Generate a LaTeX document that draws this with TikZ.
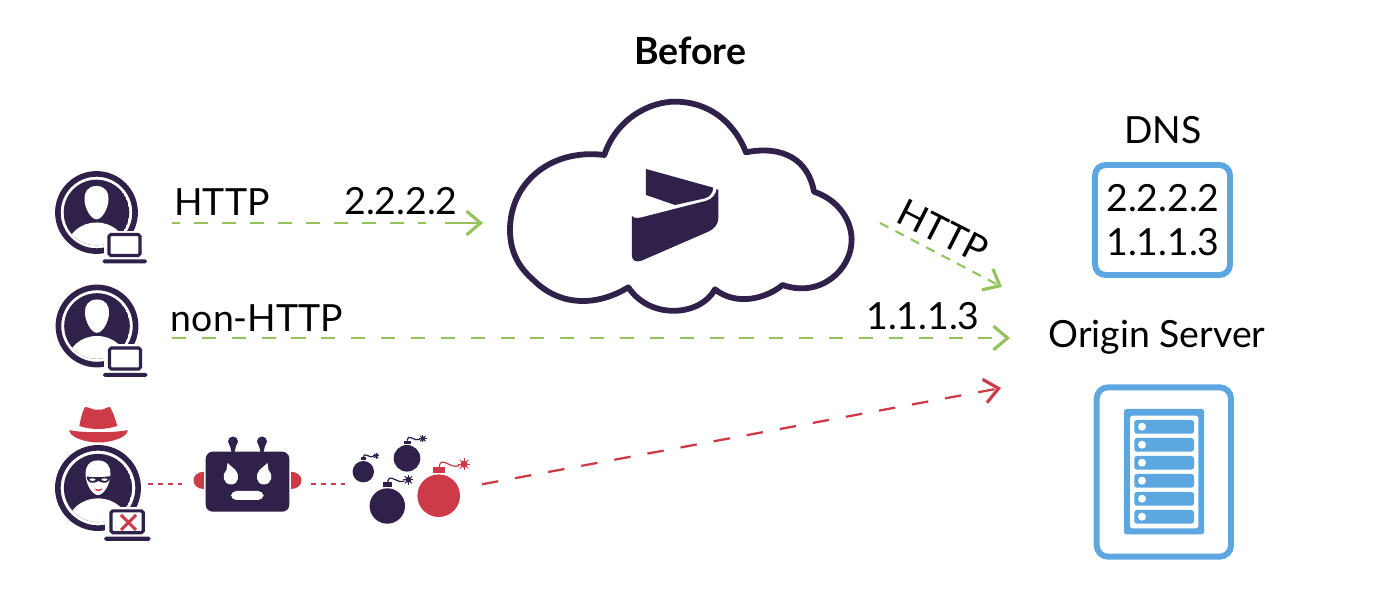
\documentclass[tikz,border=0pt]{standalone}
\usepackage{fontspec}
\setmainfont{Lato}
\usetikzlibrary{arrows.meta}
\definecolor{ink}{HTML}{2F2149}
\definecolor{leaf}{HTML}{95C25C}
\definecolor{alarm}{HTML}{CC3B47}
\definecolor{sky}{HTML}{5DA7E0}
\tikzset{
	label text/.style={font=\fontsize{21.3}{25}\selectfont,inner sep=0pt,text=black},
	iconbox/.style={inner sep=0pt,outer sep=0pt},
	barbtip/.style={-{Straight Barb[length=8pt,width=13.5pt,line width=1.8pt]}},
	firstline/.style={draw=leaf,line width=1.3pt,barbtip,dash pattern=on 4.7pt off 7.6pt on 8pt off 8pt on 8pt off 8pt on 8pt off 8pt on 8pt off 8pt on 8pt off 8pt on 8pt off 8pt on 8pt off 8pt on 8pt off 8pt on 4.3pt off 10.8pt on 30pt off 1pt},
	okline/.style={draw=leaf,line width=1.3pt,barbtip,dash pattern=on 8pt off 9pt},
	shortline/.style={draw=leaf,line width=1.2pt,barbtip,dash pattern=on 5.4pt off 4.5pt},
	badline/.style={draw=alarm,line width=1.3pt,barbtip,dash pattern=on 9.4pt off 9.75pt},
	botline/.style={draw=alarm,line width=1.2pt,dash pattern=on 3pt off 2.6pt},
}
% person in a ring with a laptop
\newcommand{\usericon}[3]{
	\begin{scope}[shift={(#1,#2)},scale=#3]
		\draw[ink,line width=3.2pt] (0,0) circle [radius=38.6];
		\begin{scope}
			\clip (0,0) circle [radius=32.8];
			\fill[ink] (0,0) circle [radius=32.8];
			\fill[white] (0,35) ellipse [x radius=29,y radius=25];
		\end{scope}
		\fill[white] (0,-26.5) .. controls (-9,-26.5) and (-12.5,-20) .. (-12,-13) .. controls (-12,-5) and (-6,6.8) .. (0,6.8) .. controls (6,6.8) and (12,-5) .. (12,-13) .. controls (12.5,-20) and (9,-26.5) .. (0,-26.5) -- cycle;
		\fill[white] (7,18.5) rectangle (52,52);
		\draw[ink,line width=1.8pt,rounded corners=1pt] (12.5,22) rectangle (43.5,43);
		\fill[ink,rounded corners=1pt] (6,46.8) rectangle (50.5,50.8);
	\end{scope}
}
% round bomb with cap, fuse and spark
\newcommand{\bombicon}[4]{
	\begin{scope}[shift={(#1,#2)},scale=#3]
		\fill[#4] (0,0) circle [radius=1];
		\fill[#4] (-0.25,-1.33) rectangle (0.28,-1.05);
		\draw[#4,line width=0.7pt] (0.02,-1.33) .. controls (0.1,-1.95) and (0.55,-1.2) .. (0.98,-1.42);
		\fill[#4] (1.19,-1.48) circle [radius=0.17];
		\foreach \ang in {0,45,...,315}
			\draw[#4,line width=0.5pt] (1.19,-1.48) -- ++(\ang:0.29);
	\end{scope}
}
\begin{document}
\begin{tikzpicture}[x=0.02cm,y=-0.02cm]
	\useasboundingbox (0,0) rectangle (1387,614);
	\node[font=\fontsize{21.3}{25}\selectfont\bfseries,iconbox] (title) at (690,51) {Before};

	% invisible boxes that the connectors run between
	\node[iconbox,minimum width=3.02cm] (webuser) at (96.5,223) {};
	\node[iconbox,minimum width=3.02cm] (appuser) at (96.5,338) {};
	\node[iconbox,minimum width=2cm] (hacker) at (98,484.3) {};
	\node[iconbox,minimum width=2.58cm] (robot) at (246.5,484.3) {};
	\node[iconbox,minimum width=2.74cm] (bombs) at (413.5,484.3) {};
	\node[iconbox,minimum width=7.94cm] (cloud) at (681.5,223) {};
	\coordinate (dnsin) at (1002,287);
	\coordinate (directin) at (1010,338);
	\coordinate (attackin) at (1001,388);

	% people
	\usericon{96.5}{212.5}{1}
	\usericon{97}{326}{1}
	\usericon{98}{488}{1.04}
	\fill[alarm] (79.3,426) .. controls (81,418) and (82,412) .. (85,407) .. controls (91,407) and (93,411) .. (98,409.5) .. controls (103,411) and (106,407) .. (110,407) .. controls (113,412) and (115,418) .. (117.3,426) .. controls (105,430) and (91,430) .. (79.3,426) -- cycle;
	\fill[alarm] (69.3,430) .. controls (80,433) and (116,433) .. (127.7,430) .. controls (128,437) and (112,442.5) .. (98.5,442.5) .. controls (85,442.5) and (69,437) .. (69.3,430) -- cycle;
	\fill[ink] (86.5,476.5) .. controls (94,477.5) and (103,477.5) .. (110.5,476) .. controls (110,483) and (105,484.5) .. (98.5,481) .. controls (92,484.5) and (87,483) .. (86.5,476.5) -- cycle;
	\fill[white] (92.5,479.6) ellipse [x radius=3,y radius=1.2];
	\fill[white] (104.5,479.6) ellipse [x radius=3,y radius=1.2];
	\fill[alarm] (94.5,488.5) .. controls (97,490) and (100,490) .. (102.5,488.5) .. controls (101,492) and (96,492) .. (94.5,488.5) -- cycle;
	\draw[alarm,line width=1.7pt] (121,515) -- (136,530) (136,515) -- (121,530);

	% robot
	\fill[ink,rounded corners=4pt] (205.7,451.7) rectangle (289.3,511.7);
	\foreach \side in {1,-1} {
		\begin{scope}[shift={(247.5,0)},xscale=\side]
			\fill[alarm] (-43.7,471.7) .. controls (-50,472) and (-54,476) .. (-54,480.3) .. controls (-54,485) and (-50,489) .. (-43.7,489) -- cycle;
			\fill[ink] (-14.5,441.5) circle [radius=5];
			\fill[ink] (-18,444) -- (-16,452) -- (-13,452) -- (-11,444) -- cycle;
			\fill[white] (-20,463) -- (-12,470) .. controls (-8,474) and (-8,484) .. (-16,484.5) .. controls (-25,484.5) and (-26,474) .. (-21,470) -- cycle;
		\end{scope}
	}
	\fill[white,rounded corners=3pt] (231,491) rectangle (263.5,500);

	% bombs
	\bombicon{363.3}{471.7}{10.7}{ink}
	\bombicon{407}{458.3}{13.3}{ink}
	\bombicon{387.3}{506}{17.7}{ink}
	\bombicon{438.7}{495.7}{21.3}{alarm}

	% cloud with logo
	\begin{scope}[shift={(500,90)},scale=0.3333]
		\draw[ink,line width=3.3pt,line join=round] (313,195) .. controls (350,85) and (450,35) .. (525,35) .. controls (620,35) and (700,90) .. (738,187) .. controls (850,165) and (925,210) .. (942,305) .. controls (1015,330) and (1055,390) .. (1055,450) .. controls (1055,540) and (960,625) .. (848,585) .. controls (800,625) and (710,650) .. (645,598) .. controls (600,680) and (450,690) .. (385,592) .. controls (290,650) and (180,650) .. (100,570) .. controls (60,535) and (30,490) .. (30,420) .. controls (30,280) and (150,175) .. (313,195) -- cycle;
		\fill[ink] (438,237) -- (640,293) .. controls (638,310) and (630,320) .. (615,325) -- (525,345) -- (438,315) -- cycle;
		\fill[ink] (396,378) .. controls (402,385) and (412,385) .. (425,382) -- (620,332) .. controls (638,326) and (648,312) .. (650,297) -- (655,300) -- (655,385) .. controls (655,405) and (640,418) .. (625,425) -- (425,512) .. controls (408,518) and (396,512) .. (396,498) -- cycle;
	\end{scope}

	% dns box
	\node[label text] (dnstitle) at (1163,130) {DNS};
	\draw[sky,line width=3.4pt,rounded corners=6pt] (1095,165) rectangle (1230,275);
	\node[label text] (dnsone) at (1163,198) {2.2.2.2};
	\node[label text] (dnstwo) at (1163,242) {1.1.1.3};

	% origin server
	\node[label text] (origin) at (1157,337) {Origin Server};
	\draw[sky,line width=3.4pt,rounded corners=6.5pt] (1096.7,387.3) rectangle (1231,556.7);
	\fill[sky,rounded corners=1pt] (1124,409) rectangle (1204,534.3);
	\fill[white,rounded corners=1.5pt] (1130,415.7) rectangle (1198.3,528.3);
	\foreach \row in {0,...,5} {
		\fill[sky,rounded corners=1.5pt] (1134.3,420+18*\row) rectangle (1194,433.7+18*\row);
		\fill[white] (1142,426.7+18*\row) circle [radius=4];
	}

	% connectors
	\draw[firstline] (webuser.east) -- (cloud.west);
	\draw[okline] (appuser.east) -- (directin);
	\draw[shortline] (cloud.east) -- (dnsin);
	\draw[botline] (hacker.east) -- (robot.west);
	\draw[botline] (robot.east) -- (bombs.west);
	\draw[badline] (bombs.east) -- (attackin);

	% labels
	\node[label text] (httpa) at (222,202) {HTTP};
	\node[label text] (ipa) at (401,201) {2.2.2.2};
	\node[label text] (nonhttp) at (257,318) {non-HTTP};
	\node[label text] (ipb) at (923,316) {1.1.1.3};
	\node[label text,rotate=-27] (httpb) at (943,231) {HTTP};
\end{tikzpicture}
\end{document}
